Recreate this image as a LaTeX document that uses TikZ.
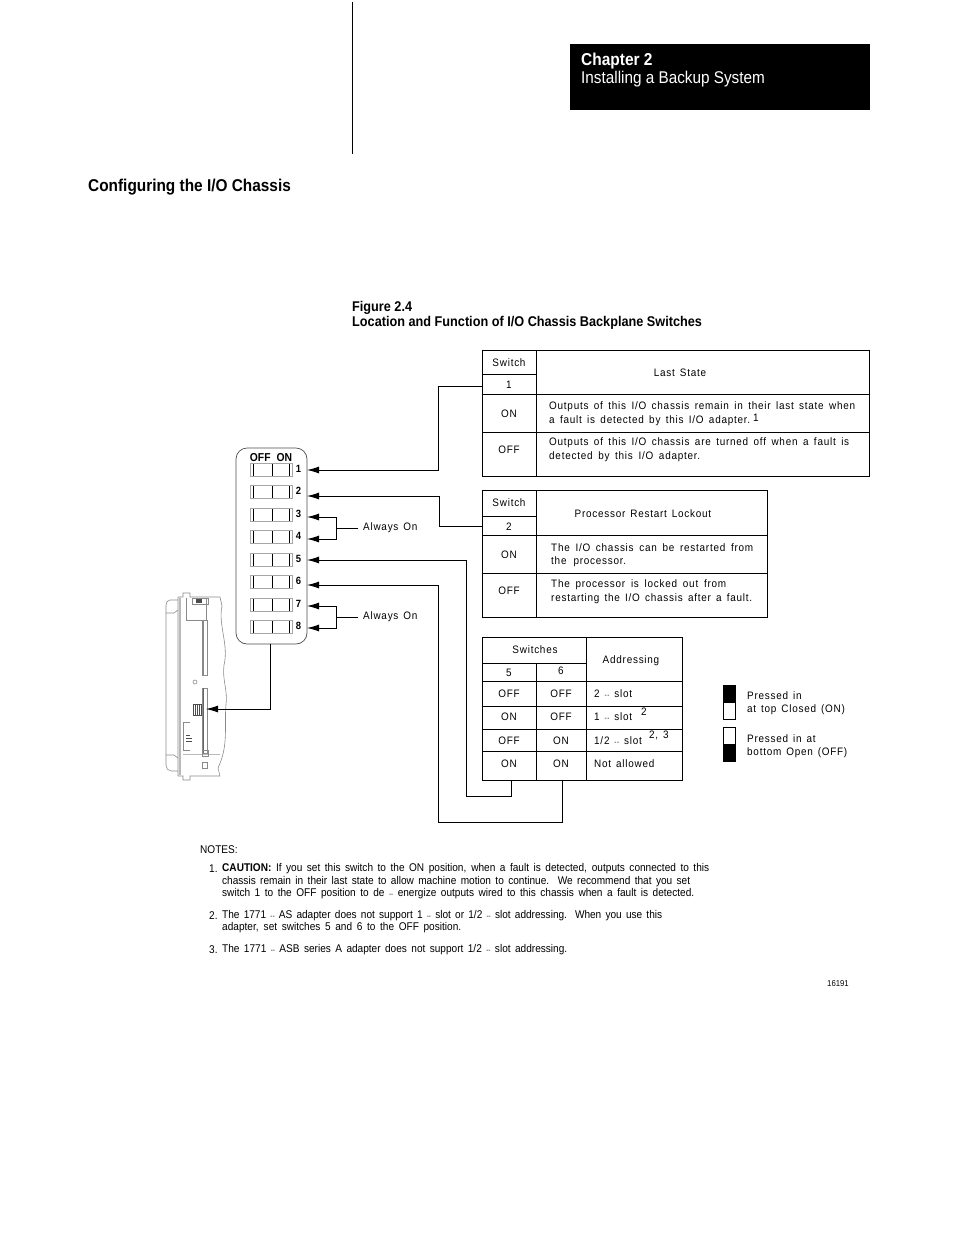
\documentclass[tikz,border=0pt]{standalone}
\usepackage{fontspec}
\setmainfont{Liberation Sans}
\newfontfamily\headfont[FakeStretch=0.9]{Liberation Sans}
\newfontfamily\bodyfont[FakeStretch=0.92,LetterSpace=7,WordSpace=1.4]{Liberation Sans}
\newfontfamily\notefont[FakeStretch=0.9]{Liberation Sans}
\usetikzlibrary{arrows.meta,positioning}
\definecolor{chassisgray}{HTML}{8A8A8A}
\newcommand{\fitline}[2]{\makebox[#1pt][s]{#2}}
\newcommand{\dsh}{ {\scriptsize --} }

\begin{document}
\begin{tikzpicture}[
  x=1pt, y=-1pt,
  rule/.style={line width=0.9pt},
  arrow/.style={-{Latex[length=12pt,width=7pt]}, line width=0.9pt},
  wire/.style={line width=0.9pt},
  txt/.style={font=\bodyfont\fontsize{10.8}{12}\selectfont, inner sep=0pt},
  txtl/.style={txt, anchor=west},
  sup/.style={txt, anchor=west},
  note/.style={font=\notefont\fontsize{11.2}{12}\selectfont, inner sep=0pt, anchor=west},
  swnum/.style={font=\headfont\bfseries\fontsize{10.5}{12}\selectfont, inner sep=0pt},
  chassis/.style={chassisgray, line width=0.6pt}
]
  \useasboundingbox (0,0) rectangle (954,1235);

  % --- Page head ---
  \fill[black] (570,44) rectangle (870,110);
  \draw[line width=0.8pt] (352,2) -- (352,154);
  \node[anchor=west, inner sep=0pt, text=white, font=\headfont\bfseries\fontsize{17.2}{20}\selectfont] (chap) at (581,61) {Chapter 2};
  \node[anchor=west, inner sep=0pt, text=white, font=\headfont\fontsize{17}{20}\selectfont] (chaptitle) at (581,79) {Installing a Backup System};
  \node[anchor=west, inner sep=0pt, font=\headfont\bfseries\fontsize{17.1}{20}\selectfont] (secthead) at (88,187) {Configuring the I/O Chassis};
  \node[anchor=west, inner sep=0pt, font=\headfont\bfseries\fontsize{14.1}{16}\selectfont] (fignum) at (352,308) {Figure 2.4};
  \node[anchor=west, inner sep=0pt, font=\headfont\bfseries\fontsize{14.1}{16}\selectfont] (figtitle) at (352,323) {Location and Function of I/O Chassis Backplane Switches};

  % --- Table switch 1 ---
  \draw[rule] (482.5,350) rectangle (869.5,476);
  \draw[rule] (536,350) -- (536,476);
  \draw[rule] (482.5,374) -- (536,374);
  \draw[rule] (482.5,394) -- (869.5,394);
  \draw[rule] (482.5,432) -- (869.5,432);
  \coordinate (cellA) at (482.5,386);
  \node[txt] (swA) at (509,362.5) {Switch};
  \node[txt] (numA) at (509,384.5) {1};
  \node[txt] (headA) at (680,372.5) {Last State};
  \node[txt] (onA) at (509,413.5) {ON};
  \node[txt] (offA) at (509,449.5) {OFF};
  \node[txtl] (lineAa) at (549,406.5) {\fitline{306}{Outputs of this I/O chassis remain in their last state when}};
  \node[txtl] (lineAb) at (549,420.5) {\fitline{201}{a fault is detected by this I/O adapter.}};
  \node[sup] (supA) at (753,418) {1};
  \node[txtl] (lineAc) at (549,442.5) {\fitline{300}{Outputs of this I/O chassis are turned off when a fault is}};
  \node[txtl] (lineAd) at (549,456.5) {\fitline{151}{detected by this I/O adapter.}};

  % --- Table switch 2 ---
  \draw[rule] (482.5,490) rectangle (767.5,617);
  \draw[rule] (536,490) -- (536,617);
  \draw[rule] (482.5,516) -- (536,516);
  \draw[rule] (482.5,535) -- (767.5,535);
  \draw[rule] (482.5,573) -- (767.5,573);
  \coordinate (cellB) at (482.5,526);
  \node[txt] (swB) at (509,502.5) {Switch};
  \node[txt] (numB) at (509,526.5) {2};
  \node[txt] (headB) at (643,513.5) {Processor Restart Lockout};
  \node[txt] (onB) at (509,554.5) {ON};
  \node[txt] (offB) at (509,590.5) {OFF};
  \node[txtl] (lineBa) at (551,547.5) {\fitline{202}{The I/O chassis can be restarted from}};
  \node[txtl] (lineBb) at (551,561.5) {\fitline{75}{the processor.}};
  \node[txtl] (lineBc) at (551,584.5) {\fitline{175}{The processor is locked out from}};
  \node[txtl] (lineBd) at (551,598.5) {\fitline{201}{restarting the I/O chassis after a fault.}};

  % --- Table addressing ---
  \draw[rule] (482.5,637) rectangle (682.5,780);
  \draw[rule] (586.5,637) -- (586.5,780);
  \draw[rule] (536.5,663) -- (536.5,780);
  \draw[rule] (482.5,663) -- (586.5,663);
  \foreach \yy in {681,706.5,729,751.5} {
    \draw[rule] (482.5,\yy) -- (682.5,\yy);
  }
  \coordinate (cellC) at (511,780);
  \coordinate (cellD) at (562,780);
  \node[txt] (swC) at (535,649.5) {Switches};
  \node[txt] (numC) at (509,672.5) {5};
  \node[txt] (numD) at (561,671) {6};
  \node[txt] (headC) at (631,660.5) {Addressing};
  \foreach \yy/\sa/\sb/\nn in {693.5/OFF/OFF/a,717/ON/OFF/b,740.5/OFF/ON/c,764/ON/ON/d} {
    \node[txt] (rowC\nn) at (509,\yy) {\sa};
    \node[txt] (rowD\nn) at (561,\yy) {\sb};
  }
  \node[txtl] (addra) at (594,693.5) {2\dsh slot};
  \node[txtl] (addrb) at (594,717) {1\dsh slot};
  \node[txtl] (addrc) at (594,740.5) {1/2\dsh slot};
  \node[txtl] (addrd) at (594,763.5) {Not allowed};
  \node[sup] (supb) at (641,712) {2};
  \node[sup] (supc) at (649,735) {2, 3};

  % --- Legend ---
  \draw[rule, fill=black] (723,685) rectangle (735,702);
  \draw[rule, fill=white] (723,702) rectangle (735,719);
  \draw[rule, fill=white] (723,727) rectangle (735,744);
  \draw[rule, fill=black] (723,744) rectangle (735,761);
  \node[txtl] (legAa) at (747,695.5) {Pressed in};
  \node[txtl] (legAb) at (747,709.5) {at top Closed (ON)};
  \node[txtl] (legBa) at (747,738.5) {Pressed in at};
  \node[txtl] (legBb) at (747,752.5) {bottom Open (OFF)};

  % --- Switch module ---
  \draw[line width=0.7pt, black!70, rounded corners=11pt] (236,448) rectangle (307,644);
  \coordinate (modbot) at (270,644);
  \node[font=\headfont\bfseries\fontsize{11.5}{13}\selectfont, inner sep=0pt] (offon) at (271,457.5) {OFF\hspace{6pt}ON};
  \foreach \nn/\yy in {1/470,2/492,3/515,4/537,5/560,6/582,7/605,8/627} {
    \draw[black!35, line width=0.7pt] (250,\yy-6.5) rectangle (292,\yy+6.5);
    \draw[line width=0.7pt] (253,\yy-6) -- (253,\yy+6);
    \draw[line width=0.7pt] (272,\yy-6) -- (272,\yy+6);
    \draw[line width=0.7pt] (289,\yy-6) -- (289,\yy+6);
    \node[swnum] (num\nn) at (298.5,\yy-1.5) {\nn};
    \coordinate (tip\nn) at (307,\yy);
  }

  % --- Switch connectors ---
  \draw[arrow] (cellA) -| (438,470) -- (tip1);
  \draw[arrow] (cellB) -| (439,496) -- (307,496);
  \draw[arrow] (cellC) |- (466,796) |- (tip5);
  \draw[arrow] (cellD) |- (438,822) |- (307,585);

  % --- Always On ---
  \node[txtl] (alwaysA) at (363,527.5) {Always On};
  \node[txtl] (alwaysB) at (363,616.5) {Always On};
  \draw[wire] (alwaysA.west) ++(-5,0.5) -- (336,528);
  \draw[wire] (alwaysB.west) ++(-5,0.5) -- (336,617);
  \draw[arrow] (336,528) |- (307,517);
  \draw[arrow] (336,528) |- (307,539);
  \draw[arrow] (336,617) |- (307,606);
  \draw[arrow] (336,617) |- (307,628);

  % --- Chassis side view ---
  \draw[chassis] (178,600) -- (170,600) to[out=180,in=90] (166,605) -- (166,765) to[out=-90,in=180] (171,771) -- (178,771);
  \draw[chassis] (166,613) -- (174,613) -- (178,610);
  \draw[chassis] (166,755) -- (174,755) -- (178,758);
  \draw[chassis] (178,597) -- (178,776) -- (183,776) -- (183,780) -- (190,780) -- (190,776) -- (220,776) -- (218,768);
  \draw[chassis] (178,597) -- (183,597) -- (183,593) -- (190,593) -- (190,597) -- (220,597) -- (222,606);
  \draw[chassis] (222,606) .. controls (218,625) and (229,645) .. (224,665) .. controls (222,680) and (228,690) .. (226,705) .. controls (224,725) and (229,745) .. (218,768);
  \draw[chassisgray!60, line width=1.6pt] (180,598) -- (180,775);
  \draw[chassisgray!60, line width=1pt] (183,754) -- (220,754);
  \draw[chassis] (186,598) -- (186,620) -- (206,620) -- (206,598);
  \draw[chassis] (192,598) rectangle (208,604);
  \fill[black!70] (196,599) rectangle (202,603);
  \draw[chassis] (202,620) rectangle (207,675);
  \draw[chassis] (202,688) rectangle (207,753);
  \draw[chassisgray, line width=1.2pt] (203.5,620) -- (203.5,675);
  \draw[black!60, line width=1pt] (203.5,688) -- (203.5,753);
  \draw[chassis] (195,682) circle (2);
  \draw[chassis] (202,750) rectangle (208,756);
  \draw[chassis] (202,762) rectangle (207,768);
  \draw[chassis] (183,722) -- (190,722) (183,750) -- (190,750) (183,722) -- (183,750);
  \draw[black!70, line width=1pt] (186,735) -- (190,735) (186,738) -- (192,738) (186,741) -- (192,741);
  \draw[black!70, line width=0.6pt] (193,704) rectangle (201,715);
  \foreach \xx in {195,197,199} {
    \draw[black!70, line width=0.6pt] (\xx,704) -- (\xx,715);
  }
  \coordinate (chassisSw) at (206,709);
  \draw[arrow] (modbot) |- (chassisSw);

  % --- Notes ---
  \node[note] (notehead) at (200,849.5) {NOTES:};
  \node[note] (noteAn) at (209,868.5) {1.};
  \node[note] (noteAa) at (222,868.5) {\fitline{487}{\textbf{CAUTION:} If you set this switch to the ON position, when a fault is detected, outputs connected to this}};
  \node[note] (noteAb) at (222,881.5) {\fitline{468}{chassis remain in their last state to allow machine motion to continue. We recommend that you set}};
  \node[note] (noteAc) at (222,893.5) {\fitline{472}{switch 1 to the OFF position to de\dsh energize outputs wired to this chassis when a fault is detected.}};
  \node[note] (noteBn) at (209,915.5) {2.};
  \node[note] (noteBa) at (222,915.5) {\fitline{440}{The 1771\dsh AS adapter does not support 1\dsh slot or 1/2\dsh slot addressing. When you use this}};
  \node[note] (noteBb) at (222,927.5) {\fitline{239}{adapter, set switches 5 and 6 to the OFF position.}};
  \node[note] (noteCn) at (209,949.5) {3.};
  \node[note] (noteCa) at (222,949.5) {\fitline{345}{The 1771\dsh ASB series A adapter does not support 1/2\dsh slot addressing.}};
  \node[inner sep=0pt, anchor=west, font=\notefont\fontsize{8.6}{10}\selectfont] (figcode) at (827,984) {16191};
\end{tikzpicture}
\end{document}
